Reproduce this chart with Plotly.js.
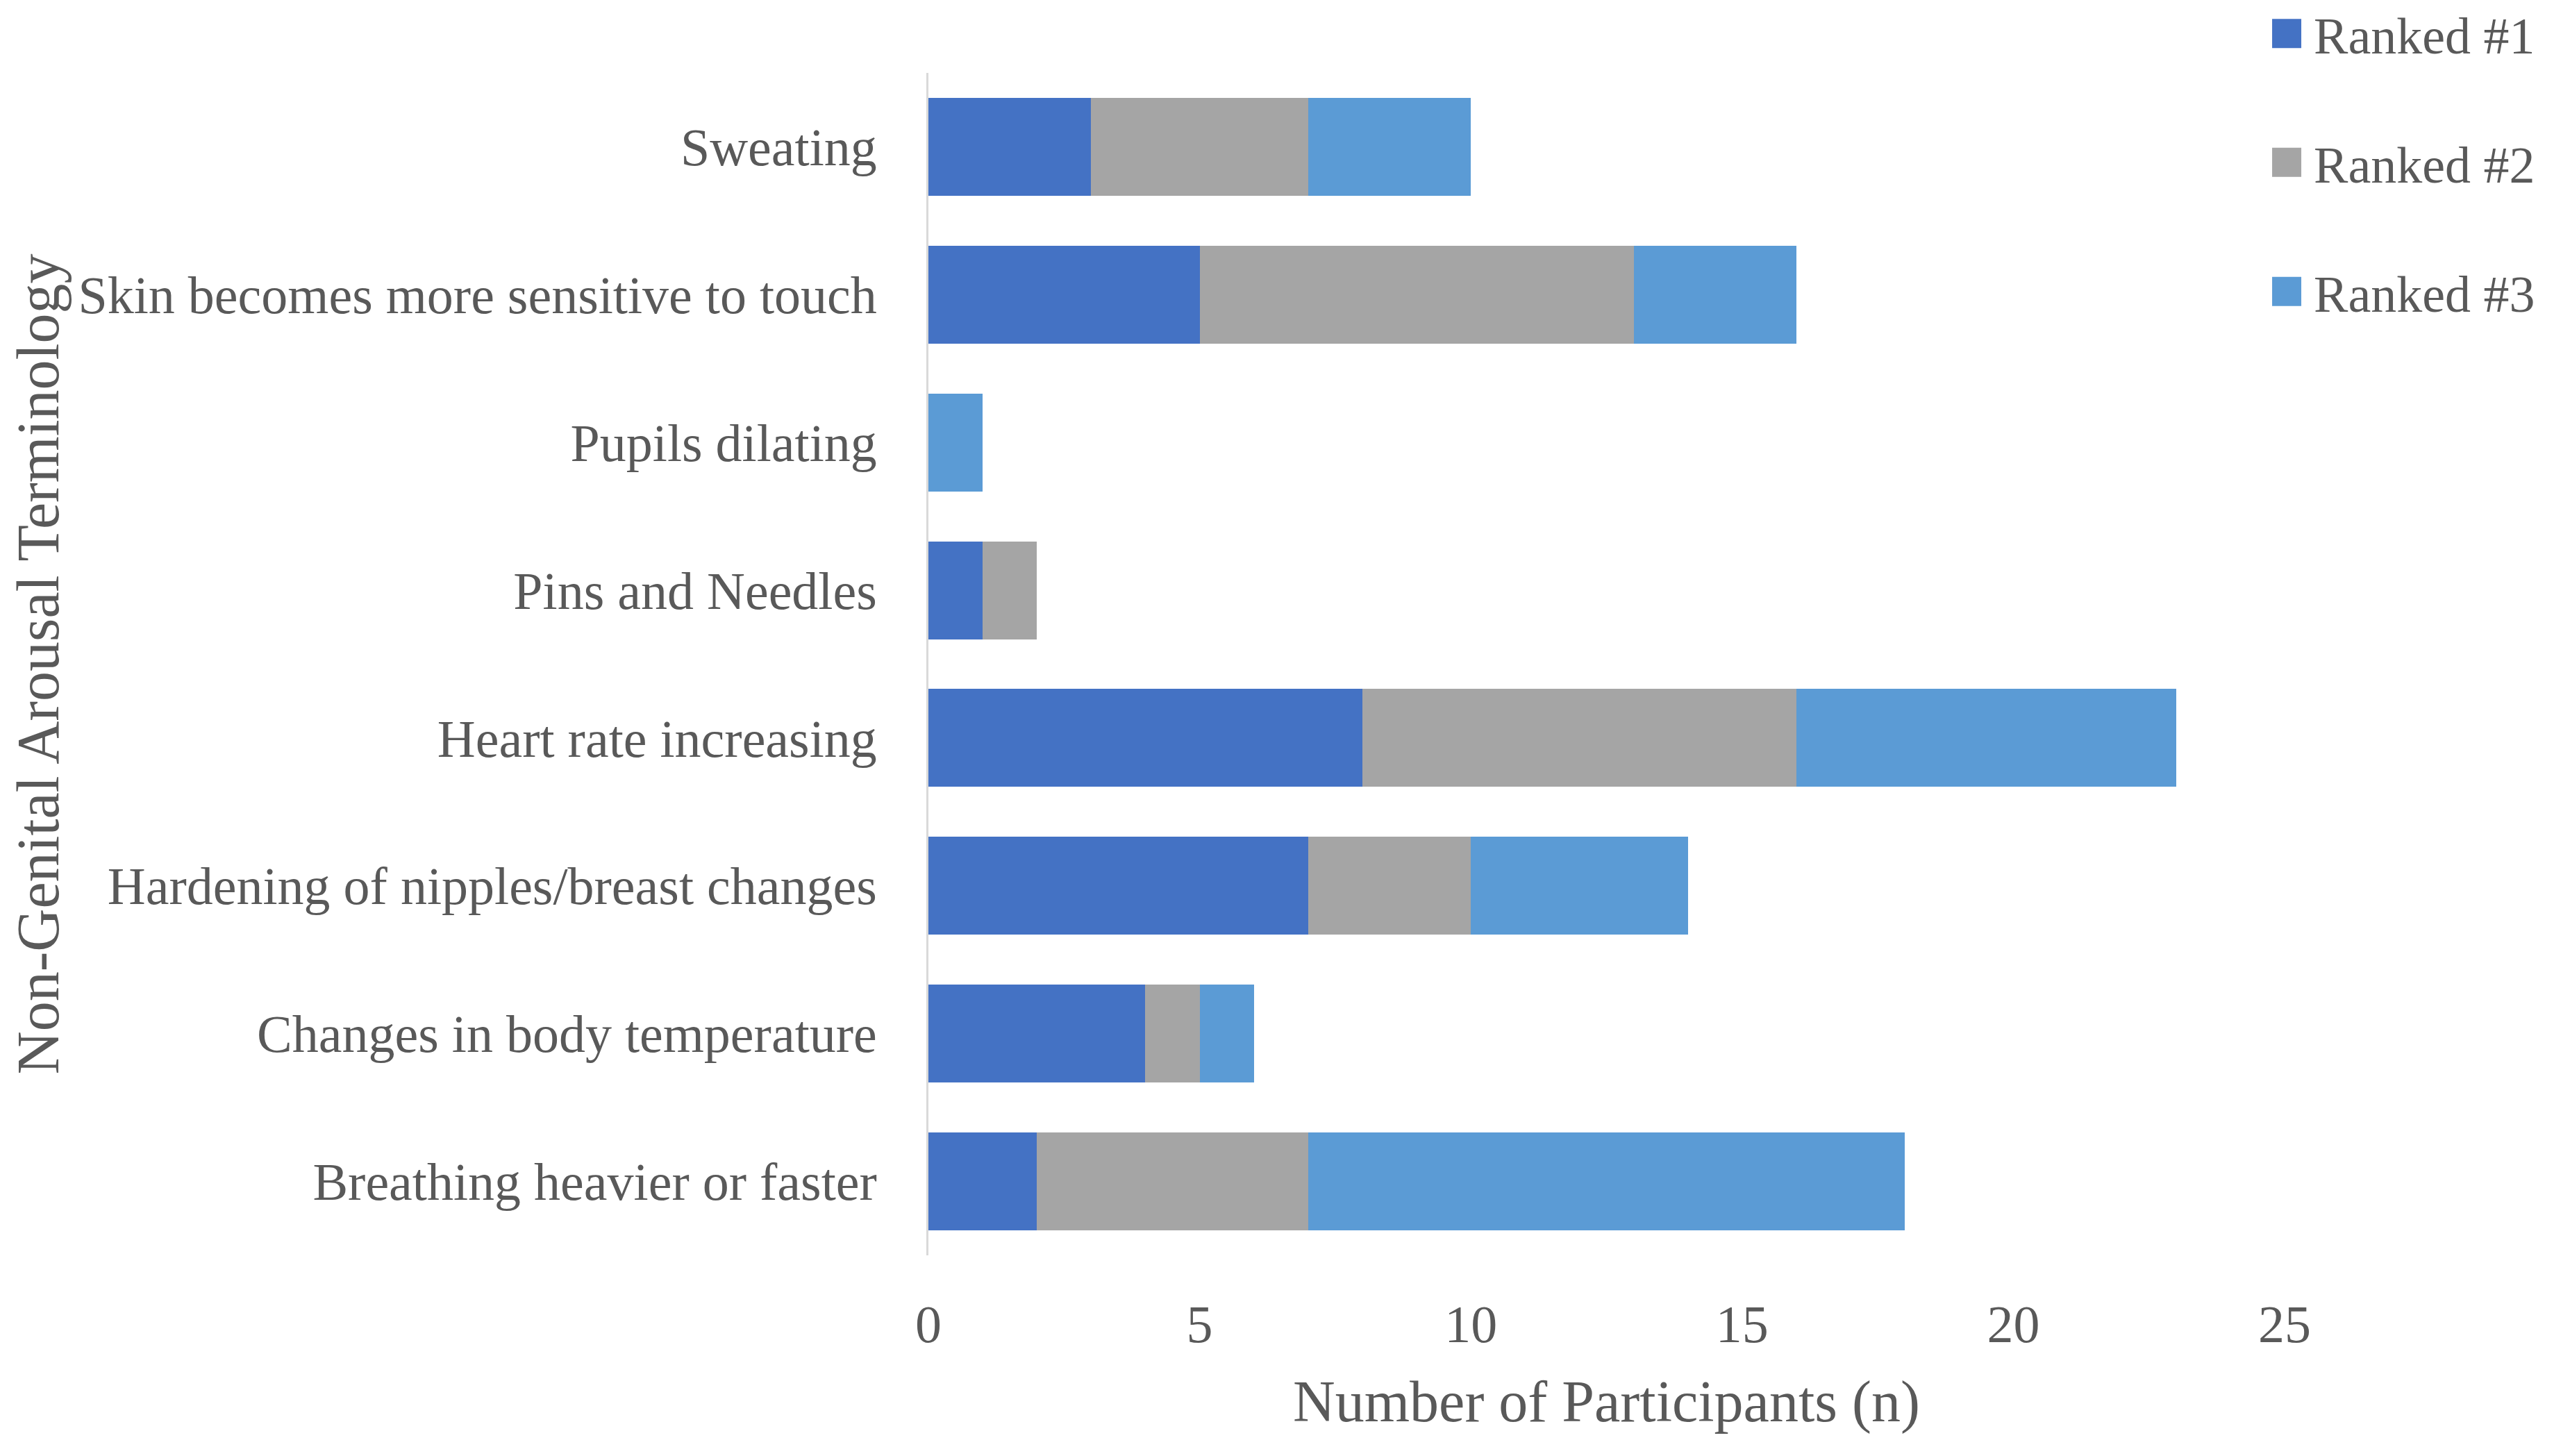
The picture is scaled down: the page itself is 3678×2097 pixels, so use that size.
<!DOCTYPE html>
<html>
<head>
<meta charset="utf-8">
<script src="https://cdn.plot.ly/plotly-3.0.1.min.js"></script>
<style>
html, body { margin: 0; padding: 0; background: #ffffff; }
#chart { width: 3678px; height: 2097px; }
</style>
</head>
<body>
<div id="chart"></div>
<script>
// Categories listed top to bottom as in the reference
const categories = [
  "Sweating",
  "Skin becomes more sensitive to touch",
  "Pupils dilating",
  "Pins and Needles",
  "Heart rate increasing",
  "Hardening of nipples/breast changes",
  "Changes in body temperature",
  "Breathing heavier or faster"
];
const ranked1 = [3, 5, 0, 1, 8, 7, 4, 2];
const ranked2 = [4, 8, 0, 1, 8, 3, 1, 5];
const ranked3 = [3, 3, 1, 0, 7, 4, 1, 11];
const seriesNames = ["Ranked #1", "Ranked #2", "Ranked #3"];
const xTicks = [0, 5, 10, 15, 20, 25];

const colors = ["#4472C4", "#A5A5A5", "#5B9BD5"];
const FONT = '"Palatino Linotype", "Book Antiqua", Palatino, "Liberation Serif", serif';
const TXT = "#595959";

const seriesValues = [ranked1, ranked2, ranked3];
const legendIds = ["legend", "legend2", "legend3"];
const traces = seriesValues.map((vals, i) => ({
  type: "bar",
  orientation: "h",
  name: seriesNames[i],
  x: vals,
  y: categories,
  marker: { color: colors[i], line: { width: 0 } },
  legend: legendIds[i],
  hoverinfo: "x+y+name"
}));

const legendBase = {
  x: 0.9816,
  xanchor: "left",
  yanchor: "middle",
  font: { family: FONT, size: 74, color: TXT },
  itemwidth: 68,
  bgcolor: "rgba(0,0,0,0)",
  borderwidth: 0
};

const layout = {
  width: 3678,
  height: 2097,
  paper_bgcolor: "#ffffff",
  plot_bgcolor: "#ffffff",
  margin: { l: 1337, r: 388, t: 105, b: 289, pad: 0, autoexpand: false },
  barmode: "stack",
  bargap: 0.338,
  font: { family: FONT, color: TXT },
  showlegend: true,
  legend: Object.assign({}, legendBase, { y: 1.0331 }),
  legend2: Object.assign({}, legendBase, { y: 0.9241 }),
  legend3: Object.assign({}, legendBase, { y: 0.8149 }),
  xaxis: {
    range: [0, 25],
    tickvals: xTicks,
    ticktext: xTicks.map(String),
    showgrid: false,
    zeroline: false,
    showline: false,
    ticks: "",
    ticklabelstandoff: 48,
    tickfont: { family: FONT, size: 76, color: TXT },
    title: {
      text: "Number of Participants (n)",
      font: { family: FONT, size: 84, color: TXT },
      standoff: 40
    },
    automargin: false,
    fixedrange: true
  },
  yaxis: {
    type: "category",
    categoryorder: "array",
    categoryarray: categories,
    autorange: "reversed",
    showgrid: false,
    zeroline: false,
    showline: true,
    linecolor: "#D9D9D9",
    linewidth: 3,
    ticks: "",
    ticklabelstandoff: 56,
    tickfont: { family: FONT, size: 76, color: TXT },
    title: {
      text: "Non-Genital Arousal Terminology",
      font: { family: FONT, size: 86, color: TXT },
      standoff: 0
    },
    automargin: false,
    fixedrange: true
  }
};

Plotly.newPlot("chart", traces, layout, { displayModeBar: false, responsive: false }).then(function (gd) {
  // Enlarge the legend swatches to match the reference's square markers
  const paths = gd.querySelectorAll("g.legendpoints path");
  paths.forEach(function (p) {
    p.setAttribute("d", "M21,21H-21V-21H21Z");
  });
});
</script>
</body>
</html>
